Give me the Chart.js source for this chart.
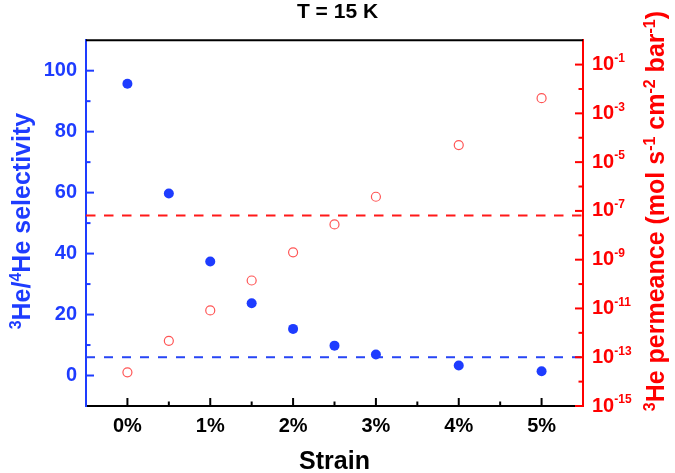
<!DOCTYPE html>
<html>
<head>
<meta charset="utf-8">
<script src="https://cdn.jsdelivr.net/npm/chart.js@4.4.0/dist/chart.umd.min.js"></script>
<style>
  html, body { margin: 0; padding: 0; background: #fff; }
</style>
</head>
<body>
<canvas id="strain-chart" width="675" height="473"></canvas>
<script>
const FONT = '"Liberation Sans", Arial, sans-serif'
const BLUE = "rgb(30, 60, 255)"
const RED = "rgb(255, 0, 0)"

// data

const strain = [0, 0.5, 1, 1.5, 2, 2.5, 3, 4, 5]
const selectivity = [95.7, 59.7, 37.4, 23.7, 15.3, 9.8, 6.9, 3.3, 1.4]
const permeance = [2.4e-14, 4.7e-13, 8.3e-12, 1.4e-10, 2.0e-9, 2.8e-8, 3.8e-7, 5.0e-5, 4.2e-3]

const selectivityLimit = 6
const permeanceLimit = 6.5e-8

const xRange = [-0.5, 5.5]
const yRange = [-10, 110]
const y2Range = [1e-15, 1]

const xTicks = [0, 1, 2, 3, 4, 5]
const yTicks = [0, 20, 40, 60, 80, 100]
const y2Exponents = [-15, -13, -11, -9, -7, -5, -3, -1]

const leftTitle = [["3", true], ["He/", false], ["4", true], ["He selectivity", false]]
const rightTitle = [
  ["3", true], ["He permeance (mol s", false], ["-1", true], [" cm", false],
  ["-2", true], [" bar", false], ["-1", true], [")", false],
]

// helpers

function drawRich(ctx, parts, cx, cy, size, color) {
  const main = `bold ${size}px ${FONT}`
  const small = `bold ${Math.round(size * 0.62)}px ${FONT}`
  let total = 0
  parts.forEach(([t, s]) => {
    ctx.font = s ? small : main
    total += ctx.measureText(t).width
  })
  ctx.save()
  ctx.translate(cx, cy)
  ctx.rotate(-Math.PI / 2)
  ctx.fillStyle = color
  ctx.textBaseline = "middle"
  let x = -total / 2
  parts.forEach(([t, s]) => {
    ctx.font = s ? small : main
    ctx.fillText(t, x, s ? -size * 0.25 : 0)
    x += ctx.measureText(t).width
  })
  ctx.restore()
}

function minorsOf(majors, lo, hi, log) {
  const m = []
  const f = log ? (v) => Math.log10(v) : (v) => v
  const g = log ? (v) => Math.pow(10, v) : (v) => v
  const vals = majors.map(f)
  const step = vals[1] - vals[0]
  const ext = [vals[0] - step].concat(vals, [vals[vals.length - 1] + step])
  for (let i = 0; i < ext.length - 1; i++) {
    const mid = (ext[i] + ext[i + 1]) / 2
    if (mid > f(lo) && mid < f(hi)) m.push(g(mid))
  }
  return m
}

const innerTicks = {
  id: "innerTicks",
  afterDraw(chart) {
    const { ctx, chartArea: a, scales } = chart
    ctx.save()
    ctx.lineWidth = 2

    // top frame line
    ctx.strokeStyle = "#000"
    ctx.beginPath()
    ctx.moveTo(a.left, a.top)
    ctx.lineTo(a.right, a.top)
    ctx.stroke()

    const tick = (x1, y1, x2, y2) => {
      ctx.beginPath()
      ctx.moveTo(x1, y1)
      ctx.lineTo(x2, y2)
      ctx.stroke()
    }

    // x
    ctx.strokeStyle = "#000"
    xTicks.forEach((v) => { const p = scales.x.getPixelForValue(v); tick(p, a.bottom, p, a.bottom - 8) })
    minorsOf(xTicks, xRange[0], xRange[1]).forEach((v) => {
      const p = scales.x.getPixelForValue(v); tick(p, a.bottom, p, a.bottom - 4.5)
    })

    // left
    ctx.strokeStyle = BLUE
    yTicks.forEach((v) => { const p = scales.y.getPixelForValue(v); tick(a.left, p, a.left + 8, p) })
    minorsOf(yTicks, yRange[0], yRange[1]).forEach((v) => {
      const p = scales.y.getPixelForValue(v); tick(a.left, p, a.left + 4.5, p)
    })

    // right
    ctx.strokeStyle = RED
    const y2Majors = y2Exponents.map((e) => Math.pow(10, e))
    y2Majors.forEach((v) => { const p = scales.y2.getPixelForValue(v); tick(a.right, p, a.right - 8, p) })
    minorsOf(y2Majors, y2Range[0], y2Range[1], true).forEach((v) => {
      const p = scales.y2.getPixelForValue(v); tick(a.right, p, a.right - 4.5, p)
    })

    // exponents of the right tick labels ("10" comes from the axis)
    ctx.fillStyle = RED
    ctx.textBaseline = "middle"
    ctx.textAlign = "left"
    ctx.font = `bold 20px ${FONT}`
    const baseW = ctx.measureText("10").width
    ctx.font = `bold 12px ${FONT}`
    y2Exponents.forEach((e) => {
      const p = scales.y2.getPixelForValue(Math.pow(10, e))
      ctx.fillText(String(e), a.right + 9 + baseW, p - 6)
    })
    ctx.restore()

    // axis titles
    drawRich(ctx, leftTitle, 23, (a.top + a.bottom) / 2 - 2, 25, BLUE)
    drawRich(ctx, rightTitle, 657, (a.top + a.bottom) / 2 - 12, 25, RED)
  },
}

// chart

const chartCanvas = document.getElementById("strain-chart")

const strainData = {
  datasets: [
    {
      label: "selectivity",
      data: strain.map((x, i) => ({ x: x, y: selectivity[i] })),
      yAxisID: "y",
      pointRadius: 5,
      pointBackgroundColor: BLUE,
      pointBorderWidth: 0,
    },
    {
      label: "permeance",
      data: strain.map((x, i) => ({ x: x, y: permeance[i] })),
      yAxisID: "y2",
      pointRadius: 4.5,
      pointBackgroundColor: "rgba(0,0,0,0)",
      pointBorderColor: "rgb(255, 85, 85)",
      pointBorderWidth: 1.2,
    },
    {
      type: "line",
      label: "permeance limit",
      data: xRange.map((x) => ({ x: x, y: permeanceLimit })),
      yAxisID: "y2",
      borderColor: "rgb(255, 25, 25)",
      borderWidth: 2,
      borderDash: [9.5, 8.5],
      pointRadius: 0,
      order: 1,
    },
    {
      type: "line",
      label: "selectivity limit",
      data: xRange.map((x) => ({ x: x, y: selectivityLimit })),
      yAxisID: "y",
      borderColor: "rgb(40, 70, 245)",
      borderWidth: 2,
      borderDash: [9, 9],
      pointRadius: 0,
      order: 1,
    },
  ],
}

const strainOptions = {
  responsive: false,
  animation: false,
  devicePixelRatio: 1,
  layout: { padding: 0 },
  plugins: {
    legend: { display: false },
    tooltip: { enabled: false },
    title: {
      display: true,
      text: "T = 15 K",
      color: "#000",
      font: { family: FONT, size: 21, weight: "bold", lineHeight: 1.2 },
      padding: { top: 0, bottom: 15 },
    },
  },
  scales: {
    x: {
      type: "linear",
      min: xRange[0],
      max: xRange[1],
      afterBuildTicks: (s) => { s.ticks = xTicks.map((v) => ({ value: v })) },
      afterFit: (s) => { s.height = 67 },
      ticks: {
        callback: (v) => v + "%",
        color: "#000",
        padding: 8,
        maxRotation: 0,
        autoSkip: false,
        font: { family: FONT, size: 20, weight: "bold" },
      },
      grid: { display: false, drawTicks: false },
      border: { color: "#000", width: 2 },
      title: {
        display: true,
        text: "Strain",
        color: "#000",
        padding: { top: 0, bottom: 0 },
        font: { family: FONT, size: 25, weight: "bold", lineHeight: 0.9 },
      },
    },
    y: {
      position: "left",
      min: yRange[0],
      max: yRange[1],
      afterBuildTicks: (s) => { s.ticks = yTicks.map((v) => ({ value: v })) },
      afterFit: (s) => { s.width = 86 },
      ticks: {
        color: BLUE,
        padding: 9,
        font: { family: FONT, size: 20, weight: "bold" },
      },
      grid: { display: false, drawTicks: false },
      border: { color: BLUE, width: 2 },
    },
    y2: {
      type: "logarithmic",
      position: "right",
      min: y2Range[0],
      max: y2Range[1],
      afterBuildTicks: (s) => { s.ticks = y2Exponents.map((e) => ({ value: Math.pow(10, e) })) },
      afterFit: (s) => { s.width = 92 },
      ticks: {
        callback: () => "10",
        color: RED,
        padding: 9,
        font: { family: FONT, size: 20, weight: "bold" },
      },
      grid: { display: false, drawTicks: false },
      border: { color: RED, width: 2 },
    },
  },
}

let strainChart = new Chart(chartCanvas, {
  type: "scatter",
  data: strainData,
  options: strainOptions,
  plugins: [innerTicks],
})
</script>
</body>
</html>
